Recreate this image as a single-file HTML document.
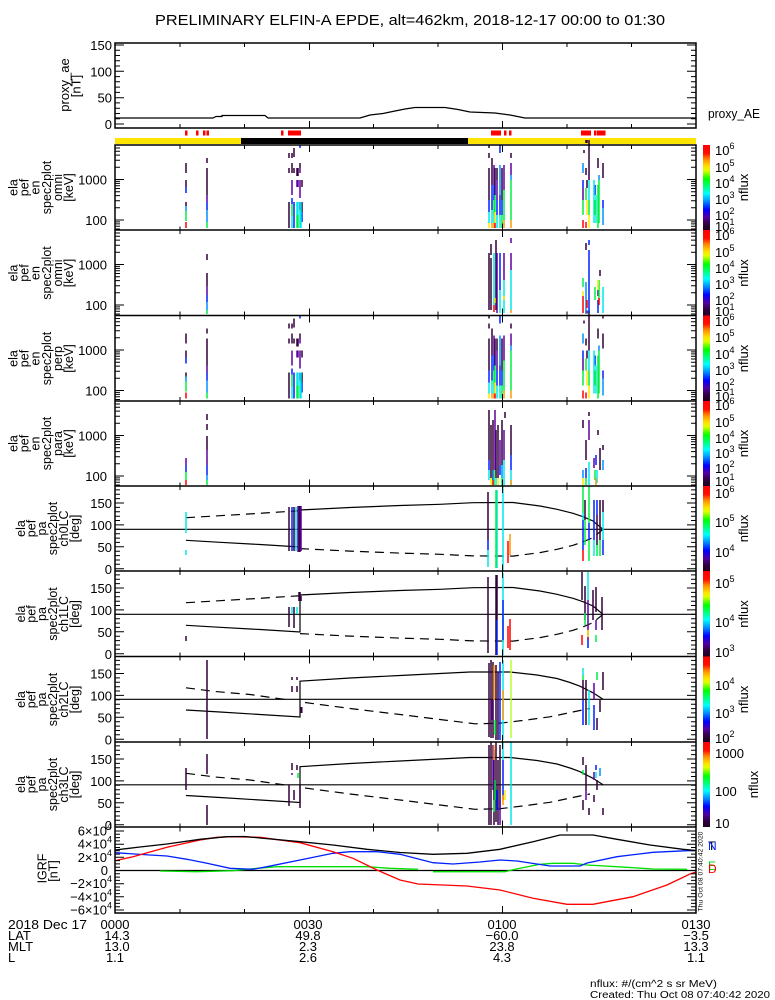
<!DOCTYPE html>
<html><head><meta charset="utf-8"><style>
html,body{margin:0;padding:0;background:#fff;}
svg{display:block;font-family:"Liberation Sans",sans-serif;}
</style></head><body>
<svg width="775" height="1000" viewBox="0 0 775 1000" xmlns="http://www.w3.org/2000/svg">
<defs>
<linearGradient id="cb" x1="0" y1="0" x2="0" y2="1">
<stop offset="0" stop-color="#ff0000"/><stop offset="0.10" stop-color="#ff1000"/><stop offset="0.17" stop-color="#ff8c00"/><stop offset="0.25" stop-color="#ffe000"/><stop offset="0.30" stop-color="#e0ff00"/><stop offset="0.40" stop-color="#00ff00"/><stop offset="0.50" stop-color="#00ff90"/><stop offset="0.57" stop-color="#00ffff"/><stop offset="0.66" stop-color="#0090ff"/><stop offset="0.76" stop-color="#0000ff"/><stop offset="0.85" stop-color="#5000a0"/><stop offset="0.93" stop-color="#300040"/><stop offset="1" stop-color="#200020"/>
</linearGradient>
<path id="tt" fill="none" stroke="#000" stroke-width="1" d="M180 0v4M244.5 0v4M309.5 0v7M373.5 0v4M438 0v4M502.5 0v7M567 0v4M631.5 0v4M180 85.5v-4M244.5 85.5v-4M309.5 85.5v-7M373.5 85.5v-4M438 85.5v-4M502.5 85.5v-7M567 85.5v-4M631.5 85.5v-4"/>
<path id="ey" fill="none" stroke="#000" stroke-width="1" d="M115 84h5M115 81.3h5M115 78.9h5M115 76.9h5M115 75h9M115 62.8h5M115 55.7h5M115 50.6h5M115 46.7h5M115 43.5h5M115 40.8h5M115 38.4h5M115 36.4h5M115 34.5h9M115 22.3h5M115 15.2h5M115 10.1h5M115 6.2h5M115 3h5M696 84h-5M696 81.3h-5M696 78.9h-5M696 76.9h-5M696 75h-9M696 62.8h-5M696 55.7h-5M696 50.6h-5M696 46.7h-5M696 43.5h-5M696 40.8h-5M696 38.4h-5M696 36.4h-5M696 34.5h-9M696 22.3h-5M696 15.2h-5M696 10.1h-5M696 6.2h-5M696 3h-5"/>
<path id="ay" fill="none" stroke="#000" stroke-width="1" d="M115 82.7h9M115 78.3h5M115 74h5M115 69.6h5M115 65.2h5M115 60.8h9M115 56.4h5M115 52.1h5M115 47.7h5M115 43.3h5M115 38.9h9M115 34.5h5M115 30.2h5M115 25.8h5M115 21.4h5M115 17h9M115 12.6h5M115 8.3h5M115 3.9h5M696 82.7h-9M696 78.3h-5M696 74h-5M696 69.6h-5M696 65.2h-5M696 60.8h-9M696 56.4h-5M696 52.1h-5M696 47.7h-5M696 43.3h-5M696 38.9h-9M696 34.5h-5M696 30.2h-5M696 25.8h-5M696 21.4h-5M696 17h-9M696 12.6h-5M696 8.3h-5M696 3.9h-5"/>
<g id="cA" fill="none" stroke="#000" stroke-width="1.2">
<path d="M115 43.3H696"/>
<path d="M186 54.3L220 56.3L260 58.5L300 61V24L350 21.5L400 19.5L440 18.3L473 16.7L513 16.5L540 20L557 23.3L573 27.3L583 30.7L593 35L603 43.3"/>
<path stroke-dasharray="9 6" d="M186 31.7L220 29.7L260 27.3L300 24.7M300 62.6L350 65.1L400 67.1L440 68.3L473 69.9L513 70.1L540 66.6L557 63.3L573 59.3L583 55.9L593 51.6L603 43.3"/>
</g>
<g id="cB" fill="none" stroke="#000" stroke-width="1.2">
<path d="M115 42.8H696"/>
<path d="M186 53.5L220 55.5L260 58L300 60.5V24.7L350 21.5L400 19L440 17L470 15.5L510 15.5L537 18.5L557 22L570 26L580 29.7L593 36.3L603 42.8"/>
<path stroke-dasharray="9 6" d="M186 31.3L215 35L250 38L285 43M305 46L350 52L400 58L440 63L475 67.3L500 66.7L525 63.7L550 60.3L580 54L590 52"/>
</g>
<g id="d1" fill="none" stroke-width="1.5">
<path stroke="#300038" d="M186 163V173M186 180V187M186 202V206M207 158V163M207 168V195M289 153V158M289 168V173M289 202V228M292 153V158M292 163V173M294 148V157M294 168V173M297 168V176M298 168V176M300 163V168M302 180V187M302 202V212M489 145V148M489 153V158M489 168V200M492 158V185M495 168V195M497 168V180M502 168V200M511 153V158M584 150V153M586 140V143M587 140V143M586 168V175M587 180V188M589 140V180M598 158V168M603 145V148M603 163V178"/>
<path stroke="#6000a0" d="M207 195V202M292 180V195M297 180V187M298 180V187M300 168V173M300 180V198M494 165V185M497 180V200M504 165V190M511 163V175M583 188V200"/>
<path stroke="#0020ff" d="M186 187V193M207 202V210M292 198V204M294 202V228M300 145V148M302 212V222M489 200V212M492 185V210M494 185V200M497 200V215M500 145V153M500 195V215M502 200V215M583 180V188M595 185V195M603 200V208"/>
<path stroke="#0090ff" d="M186 206V211M207 210V222M300 202V210M500 165V195M511 175V180M583 163V173M599 175V180M603 208V225"/>
<path stroke="#00e8e8" d="M292 216V228M297 202V215M298 202V215M300 210V228M301 202V228M489 212V223M492 210V223M494 215V223M497 215V228M500 215V228M589 180V200M594 180V223M596 195V223"/>
<path stroke="#00f040" d="M186 211V221M207 222V228M292 204V216M297 215V228M298 215V228M494 200V215M495 195V212M502 215V228M504 190V220M511 180V220M583 200V215M586 188V200M599 180V223M598 185V228M589 200V215M595 200V215"/>
<path stroke="#ffe800" d="M489 223V228M495 212V223M587 200V215M589 215V228"/>
<path stroke="#ff9800" d="M492 223V228M494 223V228M504 220V228M511 220V228"/>
<path stroke="#ff0000" d="M186 222V228M495 223V228M583 220V228M586 222V228"/>
</g>
</defs>

<text x="410" y="25" font-size="15" text-anchor="middle" textLength="510" lengthAdjust="spacingAndGlyphs">PRELIMINARY ELFIN-A EPDE, alt=462km, 2018-12-17 00:00 to 01:30</text>

<!-- proxy AE panel -->
<rect x="115" y="43" width="581" height="85" fill="none" stroke="#000" stroke-width="1.5"/>
<use href="#tt" transform="translate(0,43) scale(1,0.994)"/>
<path fill="none" stroke="#000" stroke-width="1" d="M115 124h9M115 118.7h5M115 113.5h5M115 108.2h5M115 102.9h5M115 97.7h9M115 92.4h5M115 87.1h5M115 81.8h5M115 76.6h5M115 71.3h9M115 66h5M115 60.8h5M115 55.5h5M115 50.2h5M115 45h9M696 124h-9M696 118.7h-5M696 113.5h-5M696 108.2h-5M696 102.9h-5M696 97.7h-9M696 92.4h-5M696 87.1h-5M696 81.8h-5M696 76.6h-5M696 71.3h-9M696 66h-5M696 60.8h-5M696 55.5h-5M696 50.2h-5M696 45h-9"/>
<path fill="none" stroke="#000" stroke-width="1.2" d="M115 118H213L216 116.5H222V115.5H265L268 118H360L365 116.5L370 115L383 113.5L395 111L405 109L415 107.5L445 107.5L458 109.5L470 112L495 113L510 115L525 118H696"/>
<g font-size="13" text-anchor="end">
<text x="112" y="50">150</text><text x="112" y="76.3">100</text><text x="112" y="102.7">50</text><text x="112" y="129">0</text>
</g>
<g font-size="13" text-anchor="middle">
<text transform="translate(69,85) rotate(-90)">proxy_ae</text>
<text transform="translate(80.5,86) rotate(-90)">[nT]</text>
</g>
<text x="708" y="118" font-size="13" textLength="52" lengthAdjust="spacingAndGlyphs">proxy_AE</text>

<!-- red flags and day/night bar -->
<g fill="#ff0000">
<rect x="185" y="130.5" width="2.5" height="5"/><rect x="196" y="130.5" width="2.5" height="5"/><rect x="203" y="130.5" width="2.5" height="5"/><rect x="206.5" y="130.5" width="2.5" height="5"/>
<rect x="281" y="130.5" width="2.5" height="5"/><rect x="288" y="130.5" width="13" height="5"/>
<rect x="491" y="130.5" width="10" height="5"/><rect x="504" y="130.5" width="2.5" height="5"/><rect x="509" y="130.5" width="2.5" height="5"/>
<rect x="581" y="130.5" width="10" height="5"/><rect x="594" y="130.5" width="2.5" height="5"/><rect x="597" y="130.5" width="8.5" height="5"/>
</g>
<rect x="115" y="138" width="126" height="6" fill="#ffe400"/>
<rect x="241" y="138" width="227" height="6" fill="#000"/>
<rect x="468" y="138" width="228" height="6" fill="#ffe400"/>

<!-- spectrogram data -->
<use href="#d1"/>
<use href="#d1" transform="translate(0,170.5)"/>
<g fill="none" stroke-width="1.5">
<path stroke="#300038" d="M207 254V260M207 273V286M489 253V310M491 244V255M491 258V310M496 240V310M586 243V250M600 270V276"/>
<path stroke="#6000a0" d="M207 286V295M497 253V313M504 253V280M511 238V243M511 253V270M598 290V296"/>
<path stroke="#0020ff" d="M207 295V302M500 253V290M589 240V245M589 250V313M598 300V313"/>
<path stroke="#0090ff" d="M207 302V310M586 282V313"/>
<path stroke="#00e8e8" d="M494 253V305M500 290V313M504 280V313M511 270V310M603 287V313"/>
<path stroke="#00f040" d="M207 310V314M583 278V287M595 287V300M599 280V300"/>
<path stroke="#ffe800" d="M495 298V303M504 296V300M583 291V296M598 280V290"/>
<path stroke="#ff9800" d="M511 310V313"/>
<path stroke="#ff0000" d="M494 305V312M583 296V313M587 300V308M599 298V305"/>
</g>
<g fill="none" stroke-width="1.5">
<path stroke="#300038" d="M207 414V420M207 424V430M207 436V450M489 410V460M491 425V478M493 420V470M496 430V478M498 425V478M502 420V465M505 412V418M511 425V455M583 420V428M586 440V460M589 412V416M598 430V435M600 448V470M603 445V450"/>
<path stroke="#6000a0" d="M186 458V465M207 450V465M495 410V470M500 440V465M504 430V460M589 420V440M594 458V468"/>
<path stroke="#0020ff" d="M186 465V472M207 465V475M489 460V470M493 470V480M500 465V475M511 455V470M586 468V478M596 455V465"/>
<path stroke="#0090ff" d="M207 475V480M502 465V478M583 470V478M603 460V470"/>
<path stroke="#00e8e8" d="M489 470V480M496 478V485M504 460V485M511 470V485M589 462V485M597 470V483"/>
<path stroke="#00f040" d="M186 472V480M207 480V485M494 470V485M502 478V485M586 478V485M595 470V480"/>
<path stroke="#ffe800" d="M491 478V485M498 478V485M583 478V485"/>
<path stroke="#ff9800" d="M511 480V485M596 478V485"/>
<path stroke="#ff0000" d="M186 480V485M493 480V485"/>
</g>

<!-- pitch angle panels curves -->
<use href="#cA" transform="translate(0,486)"/>
<use href="#cA" transform="translate(0,571)"/>
<use href="#cB" transform="translate(0,656.5)"/>
<use href="#cB" transform="translate(0,742)"/>

<g fill="none" stroke-width="1.5">
<!-- P5 -->
<path stroke="#00e8e8" d="M186 512V533M186 550V555M296 507V551M503 486V571M497 490V568M488 550V567M583 513V520M603 512V540M594 540V556"/>
<path stroke="#300038" d="M289 507V551M294 507V551M299 506V552M300 506V552M488 492V540M585 500V520M597 515V545M600 500V540M603 500V512"/>
<path stroke="#0020ff" d="M292 507V551M488 540V550M583 520V550M589 523V540M594 500V540M597 500V515M603 540V555"/>
<path stroke="#6000a0" d="M301 506V551M298 506V552"/>
<path stroke="#00f040" d="M496 490V568M583 486V513M589 486V523M589 540V561M597 545V556M600 540V556M585 520V545"/>
<path stroke="#ff0000" d="M508 541V563M583 550V561"/>
<path stroke="#ff9800" d="M510 534V555"/>
<!-- P6 -->
<path stroke="#300038" d="M186 636V641M289 607V627M294 607V628M299 592V601M300 592V601M301 596V601M488 577V653M496 575V655M497 575V620M582 572V600M585 586V620M593 590V620M596 587V612M602 597V630"/>
<path stroke="#00e8e8" d="M292 607V614M297 607V614M503 573V655M588 572V600"/>
<path stroke="#0020ff" d="M497 620V655M503 600V640M588 640V648"/>
<path stroke="#ff0000" d="M508 626V648M510 619V650M582 635V645"/>
<path stroke="#00f040" d="M585 613V625M596 635V642"/>
<path stroke="#6000a0" d="M588 600V640M596 620V630"/>
<path stroke="#ffe800" d="M588 630V637"/>
<!-- P7 -->
<path stroke="#300038" d="M207 660V739M292 677V680M297 677V680M292 686V692M297 686V692M489 663V737M491 660V738M493 662V738M496 665V740M498 672V740M583 680V700M586 680V725M597 718V730M603 672V690M600 700V712"/>
<path stroke="#300038" stroke-width="3" d="M301 707V713"/>
<path stroke="#0020ff" d="M500 662V740M594 705V730M583 700V725"/>
<path stroke="#00e8e8" d="M503 660V740M589 690V725M583 668V675"/>
<path stroke="#ff9800" d="M494 665V700M503 690V720"/>
<path stroke="#00f040" d="M583 675V680M597 672V680M495 720V735"/>
<path stroke="#b8ff30" d="M511 660V738"/>
<path stroke="#6000a0" d="M594 683V700M492 700V720"/>
<!-- P8 -->
<path stroke="#300038" d="M186 768V790M207 754V774M207 805V825M289 785V806M292 763V770M294 790V800M297 765V770M300 785V808M489 745V825M491 742V825M494 750V825M496 742V822M498 760V825M500 745V810M583 757V765M586 765V790M589 808V815M594 795V802M597 780V790M603 808V815M583 800V810"/>
<path stroke="#6000a0" d="M292 773V775M493 745V790M500 800V825M594 772V780M586 790V800"/>
<path stroke="#00f040" d="M298 773V778M583 770V775M494 800V812M495 780V800"/>
<path stroke="#0020ff" d="M503 760V800M497 790V810M596 765V770"/>
<path stroke="#00e8e8" d="M503 742V760M511 742V825M596 772V778"/>
<path stroke="#ff9800" d="M503 795V805M494 745V760"/>
<path stroke="#ffe800" d="M505 790V800"/>
<path stroke="#0090ff" d="M600 768V776"/>
</g>

<!-- IGRF curves -->
<g fill="none" stroke-width="1.3">
<path stroke="#000" d="M115 870.5H696"/>
<path stroke="#00e000" d="M160 871L197 871.7L233 870.7L257 868.3L277 866.7L367 866.7L390 868.3L418 869.3M433 871.7L505 871.7L515 869.3L540 864.3L553 863.3L573 863.3L587 865L627 867.3L653 869L687 869.3"/>
<path stroke="#0020ff" d="M115 852.7L150 855L167 856L187 859.3L207 863.3L230 868.3L253 869.3L267 866.7L300 860L333 853.3L350 851.7L377 851.7L400 854.3L433 862.7L453 864L480 862L500 860L517 861L550 866L580 866L587 863L617 856.7L653 852.3L687 850.7L696 850.5"/>
<path stroke="#ff0000" d="M115 860.7L133 856.7L167 847.3L200 840L217 837.3L230 836.7L260 837.3L300 842.7L333 851.7L353 858.3L377 870L400 880L418 884L467 886L500 890L533 898.3L567 904.3L593 904.3L633 896.7L667 885L690 874L696 872"/>
<path stroke="#000" d="M115 850L140 847L167 844L200 839.3L227 836.7L245 836.5L260 838L300 841.7L333 845L367 849.3L400 852.5L433 854.3L467 853.3L500 849.3L533 841.7L560 835L593 835L617 839.3L650 845L683 849.3L696 850.5"/>
</g>

<!-- frames -->
<rect x="115" y="145" width="581" height="768" fill="none" stroke="#000" stroke-width="1.5"/>
<path fill="none" stroke="#000" stroke-width="1.5" d="M115 230H696M115 315.5H696M115 401H696M115 486H696M115 571H696M115 656.5H696M115 742H696M115 827H696"/>
<use href="#tt" transform="translate(0,145)"/>
<use href="#tt" transform="translate(0,230)"/>
<use href="#tt" transform="translate(0,315.5)"/>
<use href="#tt" transform="translate(0,401)"/>
<use href="#tt" transform="translate(0,486)"/>
<use href="#tt" transform="translate(0,571)"/>
<use href="#tt" transform="translate(0,656.5)"/>
<use href="#tt" transform="translate(0,742)"/>
<use href="#tt" transform="translate(0,827.5)"/>
<use href="#ey" transform="translate(0,145)"/>
<use href="#ey" transform="translate(0,230)"/>
<use href="#ey" transform="translate(0,315.5)"/>
<use href="#ey" transform="translate(0,401)"/>
<use href="#ay" transform="translate(0,486)"/>
<use href="#ay" transform="translate(0,571)"/>
<use href="#ay" transform="translate(0,656.5)"/>
<use href="#ay" transform="translate(0,742)"/>
<path fill="none" stroke="#000" stroke-width="1" d="M115 831h9M115 834.3h5M115 837.6h5M115 840.9h5M115 844.2h9M115 847.5h5M115 850.8h5M115 854.1h5M115 857.3h9M115 860.6h5M115 863.9h5M115 867.2h5M115 870.5h9M115 873.8h5M115 877.1h5M115 880.4h5M115 883.7h9M115 887h5M115 890.3h5M115 893.6h5M115 896.8h9M115 900.1h5M115 903.4h5M115 906.7h5M115 910h9M696 831h-9M696 834.3h-5M696 837.6h-5M696 840.9h-5M696 844.2h-9M696 847.5h-5M696 850.8h-5M696 854.1h-5M696 857.3h-9M696 860.6h-5M696 863.9h-5M696 867.2h-5M696 870.5h-9M696 873.8h-5M696 877.1h-5M696 880.4h-5M696 883.7h-9M696 887h-5M696 890.3h-5M696 893.6h-5M696 896.8h-9M696 900.1h-5M696 903.4h-5M696 906.7h-5M696 910h-9"/>

<!-- y tick labels -->
<g font-size="13" text-anchor="end">
<text x="107" y="184.5">1000</text><text x="107" y="225">100</text>
<text x="107" y="269.5">1000</text><text x="107" y="310">100</text>
<text x="107" y="355">1000</text><text x="107" y="395.5">100</text>
<text x="107" y="440.5">1000</text><text x="107" y="481">100</text>
<text x="112" y="508">150</text><text x="112" y="530">100</text><text x="112" y="552">50</text><text x="112" y="574">0</text>
<text x="112" y="593">150</text><text x="112" y="615">100</text><text x="112" y="637">50</text><text x="112" y="659">0</text>
<text x="112" y="678.5">150</text><text x="112" y="700.5">100</text><text x="112" y="722.5">50</text><text x="112" y="744.5">0</text>
<text x="112" y="764">150</text><text x="112" y="786">100</text><text x="112" y="808">50</text><text x="112" y="830">0</text>
<text x="112" y="835.5">6×10<tspan dy="-6" font-size="9">4</tspan></text>
<text x="112" y="848.7">4×10<tspan dy="-6" font-size="9">4</tspan></text>
<text x="112" y="861.8">2×10<tspan dy="-6" font-size="9">4</tspan></text>
<text x="108" y="875">0</text>
<text x="112" y="888.2">−2×10<tspan dy="-6" font-size="9">4</tspan></text>
<text x="112" y="901.3">−4×10<tspan dy="-6" font-size="9">4</tspan></text>
<text x="112" y="914.5">−6×10<tspan dy="-6" font-size="9">4</tspan></text>
</g>

<!-- left axis titles -->
<g font-size="12.5" text-anchor="middle">
<text transform="translate(17.5,187.5) rotate(-90)">ela</text>
<text transform="translate(28.6,187.5) rotate(-90)">pef</text>
<text transform="translate(39.7,187.5) rotate(-90)">en</text>
<text transform="translate(50.8,187.5) rotate(-90)">spec2plot</text>
<text transform="translate(61.9,187.5) rotate(-90)">omni</text>
<text transform="translate(73,187.5) rotate(-90)">[keV]</text>

<text transform="translate(17.5,273) rotate(-90)">ela</text>
<text transform="translate(28.6,273) rotate(-90)">pef</text>
<text transform="translate(39.7,273) rotate(-90)">en</text>
<text transform="translate(50.8,273) rotate(-90)">spec2plot</text>
<text transform="translate(61.9,273) rotate(-90)">omni</text>
<text transform="translate(73,273) rotate(-90)">[keV]</text>

<text transform="translate(17.5,358.5) rotate(-90)">ela</text>
<text transform="translate(28.6,358.5) rotate(-90)">pef</text>
<text transform="translate(39.7,358.5) rotate(-90)">en</text>
<text transform="translate(50.8,358.5) rotate(-90)">spec2plot</text>
<text transform="translate(61.9,358.5) rotate(-90)">perp</text>
<text transform="translate(73,358.5) rotate(-90)">[keV]</text>

<text transform="translate(17.5,443.5) rotate(-90)">ela</text>
<text transform="translate(28.6,443.5) rotate(-90)">pef</text>
<text transform="translate(39.7,443.5) rotate(-90)">en</text>
<text transform="translate(50.8,443.5) rotate(-90)">spec2plot</text>
<text transform="translate(61.9,443.5) rotate(-90)">para</text>
<text transform="translate(73,443.5) rotate(-90)">[keV]</text>

<text transform="translate(25,528.5) rotate(-90)">ela</text>
<text transform="translate(35.5,528.5) rotate(-90)">pef</text>
<text transform="translate(46,528.5) rotate(-90)">pa</text>
<text transform="translate(57,528.5) rotate(-90)">spec2plot</text>
<text transform="translate(68,528.5) rotate(-90)">ch0LC</text>
<text transform="translate(79,528.5) rotate(-90)">[deg]</text>

<text transform="translate(25,614) rotate(-90)">ela</text>
<text transform="translate(35.5,614) rotate(-90)">pef</text>
<text transform="translate(46,614) rotate(-90)">pa</text>
<text transform="translate(57,614) rotate(-90)">spec2plot</text>
<text transform="translate(68,614) rotate(-90)">ch1LC</text>
<text transform="translate(79,614) rotate(-90)">[deg]</text>

<text transform="translate(25,699.5) rotate(-90)">ela</text>
<text transform="translate(35.5,699.5) rotate(-90)">pef</text>
<text transform="translate(46,699.5) rotate(-90)">pa</text>
<text transform="translate(57,699.5) rotate(-90)">spec2plot</text>
<text transform="translate(68,699.5) rotate(-90)">ch2LC</text>
<text transform="translate(79,699.5) rotate(-90)">[deg]</text>

<text transform="translate(25,784.5) rotate(-90)">ela</text>
<text transform="translate(35.5,784.5) rotate(-90)">pef</text>
<text transform="translate(46,784.5) rotate(-90)">pa</text>
<text transform="translate(57,784.5) rotate(-90)">spec2plot</text>
<text transform="translate(68,784.5) rotate(-90)">ch3LC</text>
<text transform="translate(79,784.5) rotate(-90)">[deg]</text>

<text transform="translate(46.7,868.5) rotate(-90)">IGRF</text>
<text transform="translate(57.5,871) rotate(-90)">[nT]</text>
</g>

<!-- colorbars -->
<g fill="url(#cb)">
<rect x="703" y="145" width="7" height="85"/>
<rect x="703" y="230" width="7" height="85.5"/>
<rect x="703" y="315.5" width="7" height="85.5"/>
<rect x="703" y="401" width="7" height="85"/>
<rect x="703" y="486" width="7" height="85"/>
<rect x="703" y="571" width="7" height="85.5"/>
<rect x="703" y="656.5" width="7" height="85.5"/>
<rect x="703" y="742" width="7" height="85"/>
</g>
<g font-size="13">
<text x="715" y="155">10<tspan dy="-6" font-size="9">6</tspan></text>
<text x="715" y="172">10<tspan dy="-6" font-size="9">5</tspan></text>
<text x="715" y="188">10<tspan dy="-6" font-size="9">4</tspan></text>
<text x="715" y="204">10<tspan dy="-6" font-size="9">3</tspan></text>
<text x="715" y="220">10<tspan dy="-6" font-size="9">2</tspan></text>
<text x="715" y="231">10<tspan dy="-6" font-size="9">1</tspan></text>
<text x="715" y="240">10<tspan dy="-6" font-size="9">6</tspan></text>
<text x="715" y="257">10<tspan dy="-6" font-size="9">5</tspan></text>
<text x="715" y="273">10<tspan dy="-6" font-size="9">4</tspan></text>
<text x="715" y="289">10<tspan dy="-6" font-size="9">3</tspan></text>
<text x="715" y="305">10<tspan dy="-6" font-size="9">2</tspan></text>
<text x="715" y="316">10<tspan dy="-6" font-size="9">1</tspan></text>
<text x="715" y="326">10<tspan dy="-6" font-size="9">6</tspan></text>
<text x="715" y="342">10<tspan dy="-6" font-size="9">5</tspan></text>
<text x="715" y="359">10<tspan dy="-6" font-size="9">4</tspan></text>
<text x="715" y="375">10<tspan dy="-6" font-size="9">3</tspan></text>
<text x="715" y="391">10<tspan dy="-6" font-size="9">2</tspan></text>
<text x="715" y="401">10<tspan dy="-6" font-size="9">1</tspan></text>
<text x="715" y="410">10<tspan dy="-6" font-size="9">6</tspan></text>
<text x="715" y="427">10<tspan dy="-6" font-size="9">5</tspan></text>
<text x="715" y="443">10<tspan dy="-6" font-size="9">4</tspan></text>
<text x="715" y="458">10<tspan dy="-6" font-size="9">3</tspan></text>
<text x="715" y="473">10<tspan dy="-6" font-size="9">2</tspan></text>
<text x="715" y="486">10<tspan dy="-6" font-size="9">1</tspan></text>
<text x="715" y="498">10<tspan dy="-6" font-size="9">6</tspan></text>
<text x="715" y="527">10<tspan dy="-6" font-size="9">5</tspan></text>
<text x="715" y="557">10<tspan dy="-6" font-size="9">4</tspan></text>
<text x="715" y="588">10<tspan dy="-6" font-size="9">5</tspan></text>
<text x="715" y="627">10<tspan dy="-6" font-size="9">4</tspan></text>
<text x="715" y="657">10<tspan dy="-6" font-size="9">3</tspan></text>
<text x="715" y="690">10<tspan dy="-6" font-size="9">4</tspan></text>
<text x="715" y="718">10<tspan dy="-6" font-size="9">3</tspan></text>
<text x="715" y="743">10<tspan dy="-6" font-size="9">2</tspan></text>
<text x="715" y="758">1000</text>
<text x="715" y="796">100</text>
<text x="715" y="828">10</text>
</g>
<g font-size="13" text-anchor="middle">
<text transform="translate(748,187.5) rotate(-90)">nflux</text>
<text transform="translate(748,273) rotate(-90)">nflux</text>
<text transform="translate(748,358.5) rotate(-90)">nflux</text>
<text transform="translate(748,443.5) rotate(-90)">nflux</text>
<text transform="translate(748,528.5) rotate(-90)">nflux</text>
<text transform="translate(748,614) rotate(-90)">nflux</text>
<text transform="translate(748,699.5) rotate(-90)">nflux</text>
<text transform="translate(758,784.5) rotate(-90)">nflux</text>
</g>

<!-- IGRF legend -->
<g font-size="12">
<text x="708" y="850" fill="#000">T</text>
<text x="708" y="850" fill="#0020ff">N</text>
<text x="708" y="870" fill="#00d000">E</text>
<text x="708" y="873" fill="#ff0000">D</text>
</g>
<text transform="translate(702.5,911.5) rotate(-90)" font-size="6" textLength="80" lengthAdjust="spacingAndGlyphs">Thu Oct 08 07:40:42 2020</text>

<!-- bottom axis annotation -->
<g font-size="13">
<text x="8" y="929" textLength="79" lengthAdjust="spacingAndGlyphs">2018 Dec 17</text>
<text x="8" y="940">LAT</text>
<text x="8" y="951">MLT</text>
<text x="8" y="962">L</text>
</g>
<g font-size="13" text-anchor="middle">
<text x="115" y="929">0000</text><text x="117" y="940">14.3</text><text x="117" y="951">13.0</text><text x="115" y="962">1.1</text>
<text x="308" y="929">0030</text><text x="308" y="940">49.8</text><text x="308" y="951">2.3</text><text x="308" y="962">2.6</text>
<text x="502" y="929">0100</text><text x="502" y="940">−60.0</text><text x="502" y="951">23.8</text><text x="502" y="962">4.3</text>
<text x="696" y="929">0130</text><text x="696" y="940">−3.5</text><text x="696" y="951">13.3</text><text x="696" y="962">1.1</text>
</g>
<g font-size="10">
<text x="590" y="987" textLength="127" lengthAdjust="spacingAndGlyphs">nflux: #/(cm^2 s sr MeV)</text>
<text x="590" y="998" textLength="180" lengthAdjust="spacingAndGlyphs">Created: Thu Oct 08 07:40:42 2020</text>
</g>
</svg>
</body></html>
